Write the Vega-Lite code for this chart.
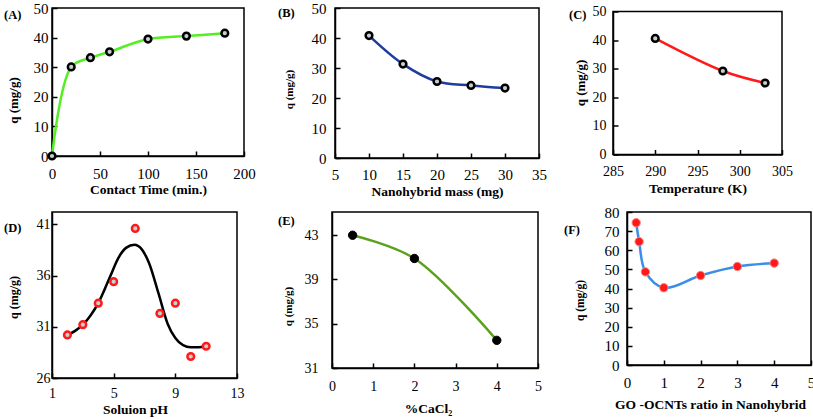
{
  "$schema": "https://vega.github.io/schema/vega-lite/v6.json",
  "background": "white",
  "padding": {"left": 3, "top": 0, "right": 0, "bottom": 0},
  "datasets": {
    "A": [{"x":0,"y":0},{"x":20,"y":30.1},{"x":40,"y":33.2},{"x":60,"y":35.2},{"x":100,"y":39.5},{"x":140,"y":40.5},{"x":180,"y":41.5}],
    "B": [{"x":10,"y":40.8},{"x":15,"y":31.3},{"x":20,"y":25.5},{"x":25,"y":24.2},{"x":30,"y":23.3}],
    "C": [{"x":290,"y":40.6},{"x":298,"y":29.2},{"x":303,"y":25.0}],
    "D": [{"x":2,"y":30.2},{"x":3,"y":31.2},{"x":4,"y":33.3},{"x":5,"y":35.4},{"x":6.4,"y":40.6},{"x":8,"y":32.3},{"x":9,"y":33.3},{"x":10,"y":28.1},{"x":11,"y":29.1}],
    "Dfit": [{"x":2,"y":30.2},{"x":2.5,"y":30.6},{"x":3,"y":31.2},{"x":3.5,"y":32.1},{"x":4,"y":33.3},{"x":4.4,"y":34.6},{"x":4.8,"y":36.0},{"x":5.3,"y":37.7},{"x":5.8,"y":38.7},{"x":6.35,"y":39.0},{"x":6.8,"y":38.6},{"x":7.3,"y":37.2},{"x":7.9,"y":34.3},{"x":8.5,"y":31.3},{"x":9.0,"y":29.9},{"x":9.5,"y":29.2},{"x":10,"y":29.0},{"x":10.5,"y":29.0},{"x":11,"y":29.1}],
    "E": [{"x":0.5,"y":43.0},{"x":2,"y":40.9},{"x":4,"y":33.5}],
    "F": [{"x":0.25,"y":74.4},{"x":0.33,"y":64.5},{"x":0.5,"y":48.7},{"x":1,"y":40.4},{"x":2,"y":46.8},{"x":3,"y":51.5},{"x":4,"y":53.3}]
  },
  "vconcat": [
    {
      "hconcat": [
        {
          "width": 192, "height": 148,
          "title": {"text": "(A)", "dx": -48, "dy": 24},
          "data": {"name": "A"},
          "encoding": {
            "x": {"field": "x", "type": "quantitative", "scale": {"domain": [0, 200], "nice": false, "zero": false},
                  "axis": {"values": [0, 50, 100, 150, 200], "title": "Contact Time (min.)", "titleY": 33, "labelPadding": 15}},
            "y": {"field": "y", "type": "quantitative", "scale": {"domain": [0, 50], "nice": false, "zero": false},
                  "axis": {"values": [0, 10, 20, 30, 40, 50], "title": "q (mg/g)", "titleX": -39, "titleY": 92, "titleFontSize": 13, "labelPadding": 9}}
          },
          "layer": [
            {"mark": {"type": "line", "interpolate": "catmull-rom", "color": "#55ee22", "strokeWidth": 2.5}},
            {"mark": {"type": "point", "filled": true, "fill": "#c8cdd0", "stroke": "black", "strokeWidth": 2.5, "size": 45, "opacity": 1}}
          ]
        },
        {
          "hconcat": [
            {
              "width": 204, "height": 150,
              "title": {"text": "(B)", "dx": -57, "dy": 22.5},
              "data": {"name": "B"},
              "encoding": {
                "x": {"field": "x", "type": "quantitative", "scale": {"domain": [5, 35], "nice": false, "zero": false},
                      "axis": {"values": [5, 10, 15, 20, 25, 30, 35], "title": "Nanohybrid mass (mg)", "titleY": 33, "labelPadding": 14}},
                "y": {"field": "y", "type": "quantitative", "scale": {"domain": [0, 50], "nice": false, "zero": false},
                      "axis": {"values": [0, 10, 20, 30, 40, 50], "title": "q (mg/g)", "titleX": -46, "titleY": 81, "titleFontSize": 11, "labelPadding": 14}}
              },
              "layer": [
                {"mark": {"type": "line", "interpolate": "catmull-rom", "color": "#1f3c9e", "strokeWidth": 2.5}},
                {"mark": {"type": "point", "filled": true, "fill": "#c8cdd0", "stroke": "black", "strokeWidth": 2.5, "size": 45, "opacity": 1}}
              ]
            },
            {
              "width": 169, "height": 143,
              "title": {"text": "(C)", "dx": -44, "dy": 21},
              "data": {"name": "C"},
              "encoding": {
                "x": {"field": "x", "type": "quantitative", "scale": {"domain": [285, 305], "nice": false, "zero": false},
                      "axis": {"values": [285, 290, 295, 300, 305], "title": "Temperature (K)", "titleY": 34, "labelPadding": 15, "labelFontSize": 14}},
                "y": {"field": "y", "type": "quantitative", "scale": {"domain": [0, 50], "nice": false, "zero": false},
                      "axis": {"values": [0, 10, 20, 30, 40, 50], "title": "q (mg/g)", "titleX": -33, "titleY": 71, "titleFontSize": 13, "labelPadding": 12, "labelFontSize": 14}}
              },
              "layer": [
                {"mark": {"type": "line", "interpolate": "catmull-rom", "color": "#ff1a1a", "strokeWidth": 2.5}},
                {"mark": {"type": "point", "filled": true, "fill": "#c8cdd0", "stroke": "black", "strokeWidth": 2.5, "size": 45, "opacity": 1}}
              ]
            }
          ],
          "spacing": 74, "bounds": "flush", "center": true
        }
      ],
      "spacing": 91, "bounds": "flush"
    },
    {
      "hconcat": [
        {
          "width": 185, "height": 166,
          "title": {"text": "(D)", "dx": -48, "dy": 26},
          "layer": [
            {
              "data": {"name": "Dfit"},
              "mark": {"type": "line", "interpolate": "monotone", "color": "black", "strokeWidth": 2.5},
              "encoding": {
                "x": {"field": "x", "type": "quantitative", "scale": {"domain": [1, 13], "nice": false, "zero": false},
                      "axis": {"values": [1, 3, 5, 7, 9, 11, 13], "title": "Soluion pH", "titleY": 31, "titleX": 83, "labelPadding": 13, "labelFontSize": 14}},
                "y": {"field": "y", "type": "quantitative", "scale": {"domain": [26, 42.2], "nice": false, "zero": false},
                      "axis": {"values": [26, 31, 36, 41], "title": "q (mg/g)", "titleX": -39, "titleY": 85, "titleFontSize": 12, "labelPadding": 7, "labelFontSize": 14}}
              }
            },
            {
              "data": {"name": "D"},
              "mark": {"type": "point", "filled": true, "fill": "#c8cdd0", "stroke": "#ff1a1a", "strokeWidth": 2.5, "size": 45, "opacity": 1},
              "encoding": {
                "x": {"field": "x", "type": "quantitative"},
                "y": {"field": "y", "type": "quantitative"}
              }
            }
          ]
        },
        {
          "hconcat": [
            {
              "width": 206, "height": 156,
              "title": {"text": "(E)", "dx": -54, "dy": 19.5},
              "data": {"name": "E"},
              "encoding": {
                "x": {"field": "x", "type": "quantitative", "scale": {"domain": [0, 5], "nice": false, "zero": false},
                      "axis": {"values": [0, 1, 2, 3, 4, 5], "title": "%CaCl₂", "titleY": 40, "titleX": 96, "labelPadding": 16, "labelFontSize": 14}},
                "y": {"field": "y", "type": "quantitative", "scale": {"domain": [31, 45.1], "nice": false, "zero": false},
                      "axis": {"values": [31, 35, 39, 43], "title": "q (mg/g)", "titleX": -44, "titleY": 94, "titleFontSize": 11, "labelPadding": 19, "labelFontSize": 14}}
              },
              "layer": [
                {"mark": {"type": "line", "interpolate": "catmull-rom", "color": "#5aa21c", "strokeWidth": 2.5}},
                {"mark": {"type": "point", "filled": true, "fill": "black", "stroke": "black", "strokeWidth": 1, "size": 70, "opacity": 1}}
              ]
            },
            {
              "width": 184, "height": 153,
              "title": {"text": "(F)", "dx": -63, "dy": 35.5},
              "data": {"name": "F"},
              "encoding": {
                "x": {"field": "x", "type": "quantitative", "scale": {"domain": [0, 5], "nice": false, "zero": false},
                      "axis": {"values": [0, 1, 2, 3, 4, 5], "title": "GO -OCNTs  ratio in Nanohybrid", "titleY": 39, "titleX": 83, "labelPadding": 15}},
                "y": {"field": "y", "type": "quantitative", "scale": {"domain": [0, 80], "nice": false, "zero": false},
                      "axis": {"values": [0, 10, 20, 30, 40, 50, 60, 70, 80], "title": "q (mg/g)", "titleX": -47, "titleY": 88, "titleFontSize": 11.5, "labelPadding": 13}}
              },
              "layer": [
                {"mark": {"type": "line", "interpolate": "catmull-rom", "color": "#3b8ee8", "strokeWidth": 2.5}},
                {"mark": {"type": "point", "filled": true, "fill": "#ff1a1a", "stroke": "#ff8080", "strokeWidth": 1, "size": 70, "opacity": 1}}
              ]
            }
          ],
          "spacing": 89, "bounds": "flush"
        }
      ],
      "spacing": 95, "bounds": "flush"
    }
  ],
  "spacing": 5,
  "config": {
    "view": {"stroke": "black", "strokeWidth": 1.5},
    "axis": {
      "grid": false, "domainColor": "black", "domainWidth": 1.5,
      "tickColor": "black", "tickWidth": 1.5, "tickSize": -5,
      "labelFont": "Liberation Serif", "labelFontSize": 15, "labelColor": "black",
      "labelFlush": false, "labelOverlap": false, "labelBound": false,
      "titleFont": "Liberation Serif", "titleFontWeight": "bold", "titleFontSize": 13.5, "titleColor": "black",
      "titleBaseline": "middle"
    },
    "axisY": {"titleAngle": -90, "titleAlign": "center"},
    "title": {"font": "Liberation Serif", "fontWeight": "bold", "fontSize": 12.5, "color": "black", "anchor": "start", "frame": "group", "offset": 0, "baseline": "middle"}
  }
}
